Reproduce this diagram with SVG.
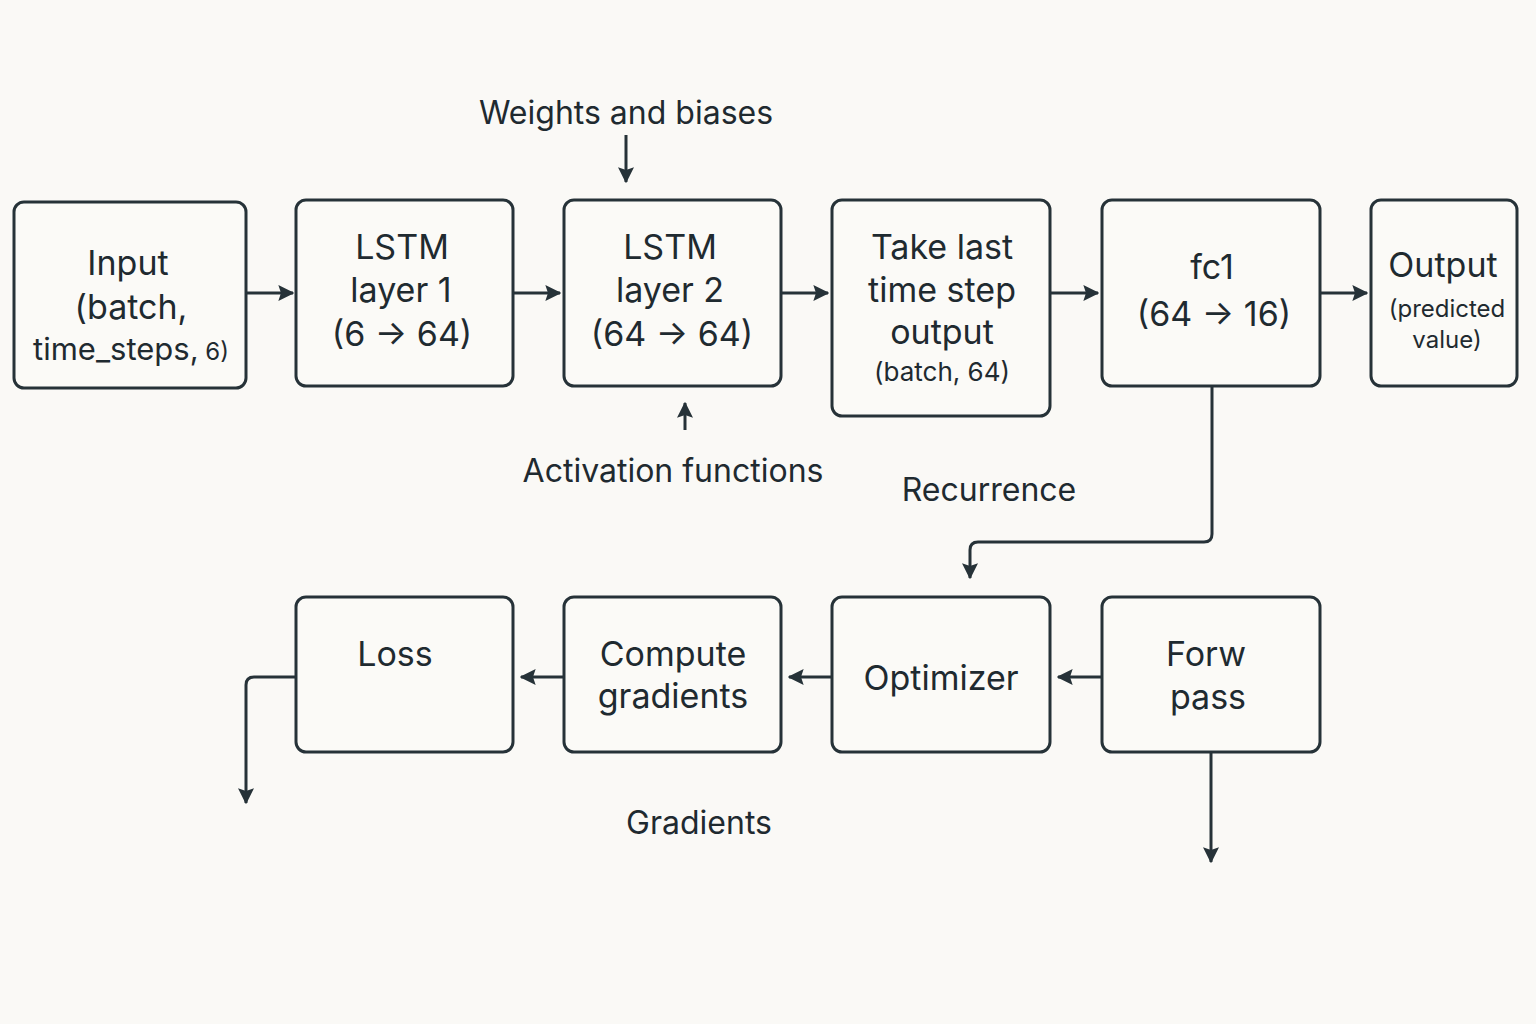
<svg xmlns="http://www.w3.org/2000/svg" width="1536" height="1024" viewBox="0 0 1536 1024">
<defs>
<marker id="a" viewBox="0 0 12 12" refX="11" refY="6" markerWidth="16" markerHeight="16" orient="auto" markerUnits="userSpaceOnUse">
<path d="M0,0 L12,6 L0,12 L2,6 Z" fill="#263238"/>
</marker>
</defs>
<style>
.box{fill:#fbfaf7;stroke:#263238;stroke-width:3;}
.t{font-family:"Inter","Liberation Sans",sans-serif;fill:#1f2a30;text-anchor:middle;font-size:34px;}
.s{font-size:26px;}
.xs{font-size:24px;}
.lbl{font-family:"Inter","Liberation Sans",sans-serif;fill:#1f2a30;text-anchor:middle;font-size:32px;}
.c{fill:none;stroke:#263238;stroke-width:3;marker-end:url(#a);}
</style>
<rect width="1536" height="1024" fill="#faf9f6"/>
<g id="connectors">
<path class="c" d="M246,293 H293"/>
<path class="c" d="M513,293 H560"/>
<path class="c" d="M781,293 H828"/>
<path class="c" d="M1050,293 H1098"/>
<path class="c" d="M1320,293 H1367"/>
<path class="c" d="M626,135 V182"/>
<path class="c" d="M685,430 V403"/>
<path class="c" d="M1212,386 V534 Q1212,542 1204,542 H978 Q970,542 970,550 V578"/>
<path class="c" d="M1102,677 H1058"/>
<path class="c" d="M832,677 H789"/>
<path class="c" d="M564,677 H521"/>
<path class="c" d="M296,677 H254 Q246,677 246,685 V803"/>
<path class="c" d="M1211,752 V862"/>
</g>
<g id="input"><rect class="box" x="14" y="202" width="232" height="186" rx="10"/>
<text class="t" x="128" y="275">Input</text><text class="t" x="131" y="319">(batch,</text><text class="t" x="131" y="360" style="font-size:31px">time_steps,<tspan style="font-size:24px"> 6)</tspan></text></g>
<g id="lstm1"><rect class="box" x="296" y="200" width="217" height="186" rx="10"/>
<text class="t" x="402" y="259">LSTM</text><text class="t" x="401" y="302">layer 1</text><text class="t" x="402" y="346">(6 → 64)</text></g>
<g id="lstm2"><rect class="box" x="564" y="200" width="217" height="186" rx="10"/>
<text class="t" x="670" y="259">LSTM</text><text class="t" x="670" y="302">layer 2</text><text class="t" x="672" y="346">(64 → 64)</text></g>
<g id="takelast"><rect class="box" x="832" y="200" width="218" height="216" rx="10"/>
<text class="t" x="942" y="259">Take last</text><text class="t" x="942" y="302">time step</text><text class="t" x="942" y="344">output</text><text class="t s" x="942" y="381">(batch, 64)</text></g>
<g id="fc1"><rect class="box" x="1102" y="200" width="218" height="186" rx="10"/>
<text class="t" x="1212" y="279">fc1</text><text class="t" x="1214" y="326">(64 → 16)</text></g>
<g id="output"><rect class="box" x="1371" y="200" width="146" height="186" rx="10"/>
<text class="t" x="1443" y="277">Output</text><text class="t xs" x="1447" y="317">(predicted</text><text class="t xs" x="1447" y="348">value)</text></g>
<g id="loss"><rect class="box" x="296" y="597" width="217" height="155" rx="10"/>
<text class="t" x="395" y="666">Loss</text></g>
<g id="compute"><rect class="box" x="564" y="597" width="217" height="155" rx="10"/>
<text class="t" x="673" y="666">Compute</text><text class="t" x="673" y="708">gradients</text></g>
<g id="optimizer"><rect class="box" x="832" y="597" width="218" height="155" rx="10"/>
<text class="t" x="941" y="690">Optimizer</text></g>
<g id="forward"><rect class="box" x="1102" y="597" width="218" height="155" rx="10"/>
<text class="t" x="1206" y="666">Forw</text><text class="t" x="1208" y="709">pass</text></g>
<g id="labels">
<text class="lbl" x="626" y="124">Weights and biases</text>
<text class="lbl" x="673" y="482">Activation functions</text>
<text class="lbl" x="989" y="501">Recurrence</text>
<text class="lbl" x="699" y="834">Gradients</text>
</g>
</svg>
